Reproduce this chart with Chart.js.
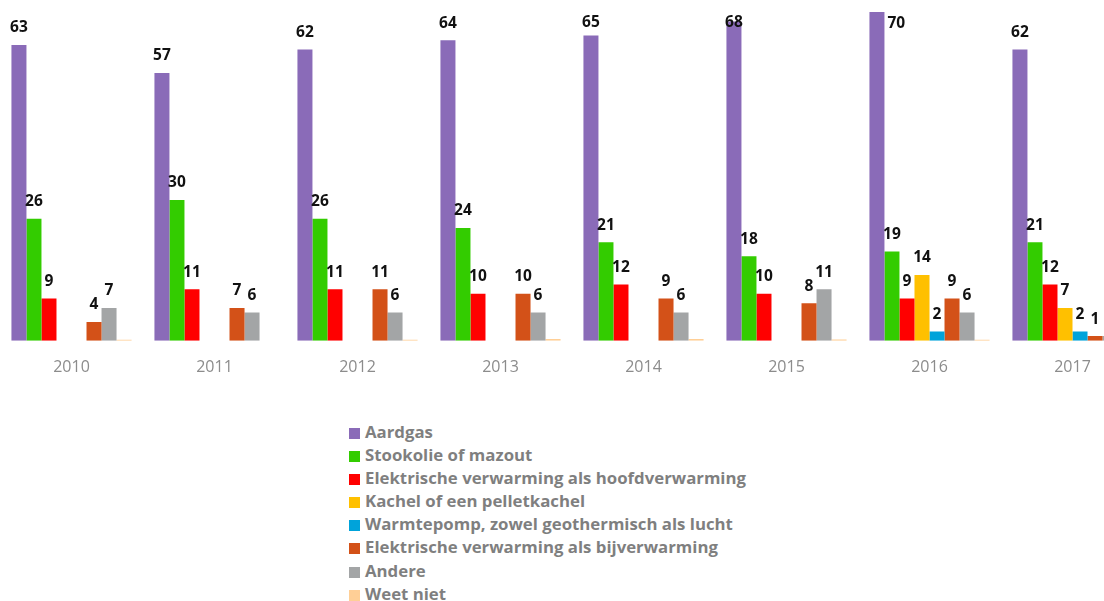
<!DOCTYPE html>
<html>
<head>
<meta charset="utf-8">
<script src="https://cdn.jsdelivr.net/npm/chart.js@4"></script>
<style>
  body { margin: 0; overflow: hidden; background: #fff; width: 1104px; height: 601px; position: relative; }
  #chartBox { position: absolute; left: 0; top: 0; }
  #legend { position: absolute; left: 349px; top: 420px; font-family: "Open Sans", sans-serif; font-weight: 700; font-size: 16.8px; color: #7f7f7f; }
  #legend div { height: 23.1px; line-height: 23.1px; white-space: nowrap; }
  #legend span { display: inline-block; width: 11px; height: 11px; margin-right: 5px; vertical-align: -1px; }
</style>
</head>
<body>
<div id="chartBox"><canvas id="heatChart" width="1144" height="400"></canvas></div>
<div id="legend"></div>
<script>
const years = ['2010', '2011', '2012', '2013', '2014', '2015', '2016', '2017'];

const aardgas = [63, 57, 62, 64, 65, 68, 70, 62];
const stookolie = [26, 30, 26, 24, 21, 18, 19, 21];
const elekHoofd = [9, 11, 11, 10, 12, 10, 9, 12];
const kachel = [0, 0, 0, 0, 0, 0, 14, 7];
const warmtepomp = [0, 0, 0, 0, 0, 0, 2, 2];
const elekBij = [4, 7, 11, 10, 9, 8, 9, 1];
const andere = [7, 6, 6, 6, 6, 11, 6, 1];
const weetNiet = [0.2, 0, 0.2, 0.4, 0.4, 0.3, 0.2, 0.2];

const seriesNames = [
  'Aardgas',
  'Stookolie of mazout',
  'Elektrische verwarming als hoofdverwarming',
  'Kachel of een pelletkachel',
  'Warmtepomp, zowel geothermisch als lucht',
  'Elektrische verwarming als bijverwarming',
  'Andere',
  'Weet niet'
];
const seriesData = [aardgas, stookolie, elekHoofd, kachel, warmtepomp, elekBij, andere, weetNiet];
const seriesColors = ['#8a6bb8', '#33cc00', '#ff0000', '#ffc000', '#00a3da', '#d35118', '#a3a5a6', '#ffcf96'];

// value labels above the bars, like the excel data labels
const valueLabels = {
  id: 'valueLabels',
  afterDatasetsDraw(chart) {
    const ctx = chart.ctx;
    const top = chart.chartArea.top;
    ctx.save();
    ctx.font = 'bold 15.5px "Open Sans"';
    ctx.fillStyle = '#111';
    ctx.textBaseline = 'middle';
    chart.data.datasets.forEach((ds, i) => {
      chart.getDatasetMeta(i).data.forEach((bar, j) => {
        const v = ds.data[j];
        if (v < 1) return;
        if (bar.y <= top + 1) {
          ctx.textAlign = 'left';
          ctx.fillText(v, bar.x + bar.width / 2 + 3, top + 12);
        } else {
          ctx.textAlign = 'center';
          ctx.fillText(v, bar.x, Math.max(bar.y - 17, top + 11));
        }
      });
    });
    ctx.restore();
  }
};

const chart = new Chart(document.getElementById('heatChart'), {
  type: 'bar',
  data: {
    labels: years,
    datasets: seriesNames.map((name, i) => ({
      label: name,
      data: seriesData[i],
      backgroundColor: seriesColors[i],
      categoryPercentage: 0.84,
      barPercentage: 1.0
    }))
  },
  options: {
    responsive: false,
    animation: false,
    layout: { padding: { top: 12, left: 0, right: 0, bottom: 6 } },
    plugins: {
      legend: { display: false },
      tooltip: { enabled: false }
    },
    scales: {
      x: {
        grid: { display: false, drawTicks: false },
        border: { display: false },
        ticks: { color: '#8c8c8c', font: { family: 'Open Sans', size: 16 }, padding: 17 }
      },
      y: { display: false, min: 0, max: 70 }
    }
  },
  plugins: [valueLabels]
});

const legendEl = document.getElementById('legend');
chart.data.datasets.forEach((ds) => {
  const row = document.createElement('div');
  const box = document.createElement('span');
  box.style.background = ds.backgroundColor;
  row.appendChild(box);
  row.appendChild(document.createTextNode(ds.label));
  legendEl.appendChild(row);
});
</script>
</body>
</html>
